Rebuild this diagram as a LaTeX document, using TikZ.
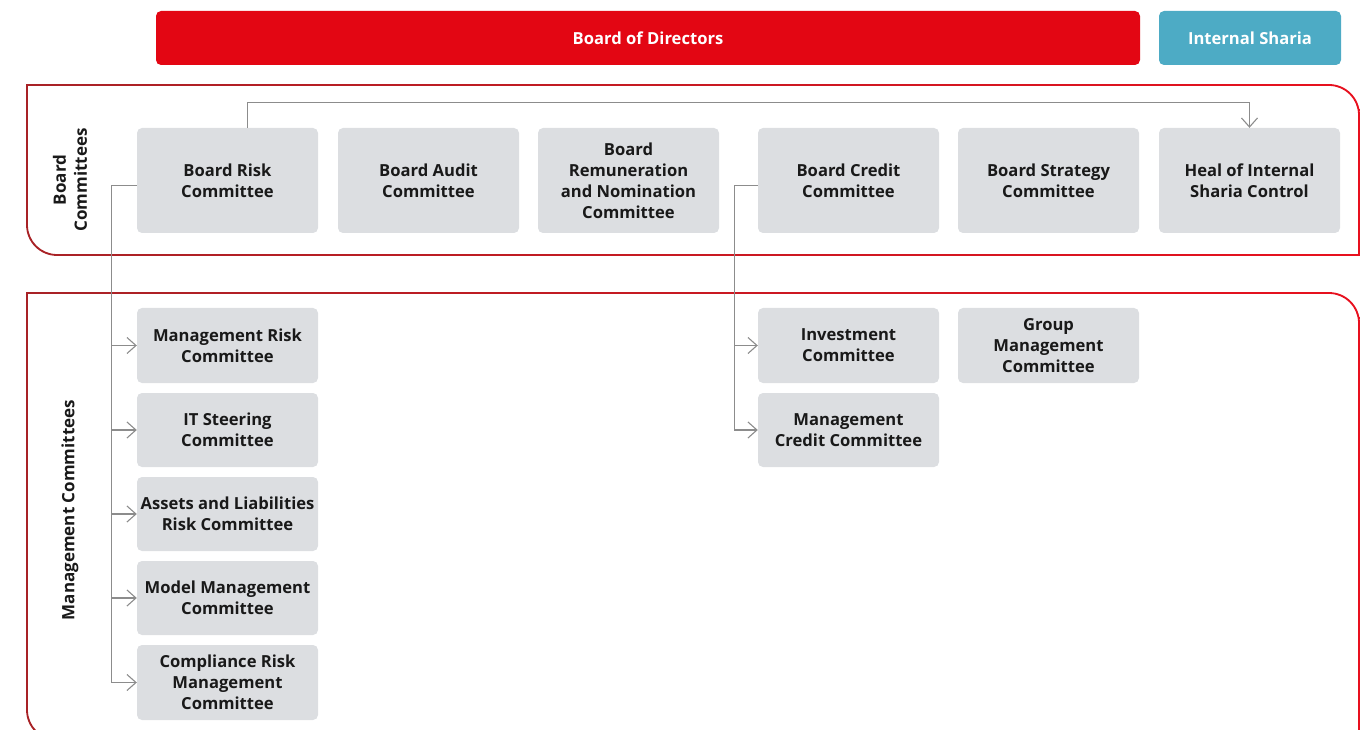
\documentclass[tikz,border=0pt]{standalone}
\usepackage{fontspec}
\setmainfont{Open Sans}
\usetikzlibrary{arrows.meta}
\definecolor{bodred}{HTML}{E30613}
\definecolor{sharia}{HTML}{4DABC5}
\definecolor{boxgray}{HTML}{DCDEE1}
\definecolor{linegray}{HTML}{8C8C8C}
\definecolor{frameleft}{HTML}{A82226}
\definecolor{frameright}{HTML}{E8101E}
\newcommand{\myframe}[5]{(#1,#2) -- ({#3-#5},#2) .. controls ({#3-0.4477*#5},#2) and (#3,{#2+0.4477*#5}) .. (#3,{#2+#5}) -- (#3,#4) -- ({#1+#5},#4) .. controls ({#1+0.4477*#5},#4) and (#1,{#4-0.4477*#5}) .. (#1,{#4-#5}) -- cycle}
\begin{document}
\begin{tikzpicture}[x=1pt,y=-1pt,
  cbox/.style={fill=boxgray, rounded corners=5pt, minimum width=181pt, align=center,
    font=\bfseries\fontsize{16.6}{21}\selectfont, text=black!90, inner sep=0pt},
  topbox/.style={rounded corners=5pt, minimum height=54pt, inner sep=0pt, text=white,
    font=\bfseries\fontsize{16.6}{20}\selectfont},
  framefill/.style={even odd rule, left color=frameleft, right color=frameright},
  conn/.style={draw=linegray, line width=1.2pt},
  arr/.style={conn, -{Straight Barb[length=9pt,width=16pt,line width=1.1pt]}},
  vlabel/.style={rotate=90, align=center, font=\bfseries\fontsize{17}{21}\selectfont, text=black!90}]
\useasboundingbox (0,0) rectangle (1369,730);
% top boxes
\node[topbox, fill=bodred, minimum width=984pt] (bod) at (648,38) {Board of Directors};
\node[topbox, fill=sharia, minimum width=182pt] (is) at (1250,38) {Internal Sharia};
% frames (gradient strokes)
\shade[framefill] \myframe{26.1}{84.1}{1359.9}{255.9}{30.9} \myframe{27.9}{85.9}{1358.1}{254.1}{29.1};
\shade[framefill] \myframe{26.1}{292.1}{1359.9}{740.9}{30.9} \myframe{27.9}{293.9}{1358.1}{739.1}{29.1};
% labels
\node[vlabel] (lbc) at (70,180) {Board\\Committees};
\node[vlabel] (lmc) at (70,510) {Management Committees};
% board committees
\node[cbox, minimum height=105pt] (brc) at (227.5,180.5) {Board Risk\\Committee};
\node[cbox, minimum height=105pt] (bac) at (428.5,180.5) {Board Audit\\Committee};
\node[cbox, minimum height=105pt] (brn) at (628.5,180.5) {Board\\Remuneration\\and Nomination\\Committee};
\node[cbox, minimum height=105pt] (bcc) at (848.5,180.5) {Board Credit\\Committee};
\node[cbox, minimum height=105pt] (bsc) at (1048.5,180.5) {Board Strategy\\Committee};
\node[cbox, minimum height=105pt] (hisc) at (1249.5,180.5) {Heal of Internal\\Sharia Control};
% management committees
\node[cbox, minimum height=75pt] (m1) at (227.5,345.5) {Management Risk\\Committee};
\node[cbox, minimum height=74pt] (m2) at (227.5,430) {IT Steering\\Committee};
\node[cbox, minimum height=74pt] (m3) at (227.5,514) {Assets and Liabilities\\Risk Committee};
\node[cbox, minimum height=74pt] (m4) at (227.5,598) {Model Management\\Committee};
\node[cbox, minimum height=75pt] (m5) at (227.5,682.5) {Compliance Risk\\Management\\Committee};
\node[cbox, minimum height=75pt] (ic) at (848.5,345.5) {Investment\\Committee};
\node[cbox, minimum height=74pt] (mcc) at (848.5,430) {Management\\Credit Committee};
\node[cbox, minimum height=75pt] (gmc) at (1048.5,345.5) {Group\\Management\\Committee};
% connectors
\draw[arr] ([xshift=20pt]brc.north) -- ++(0,-25) -| (hisc.north);
\draw[arr] ([yshift=-5pt]brc.west) -| ([xshift=-25pt]m5.west) -- (m5.west);
\foreach \m in {m1,m2,m3,m4} \draw[arr] ([xshift=-25pt]\m.west) -- (\m.west);
\draw[arr] ([yshift=-5pt]bcc.west) -| ([xshift=-23pt]mcc.west) -- (mcc.west);
\draw[arr] ([xshift=-23pt]ic.west) -- (ic.west);
\end{tikzpicture}
\end{document}
